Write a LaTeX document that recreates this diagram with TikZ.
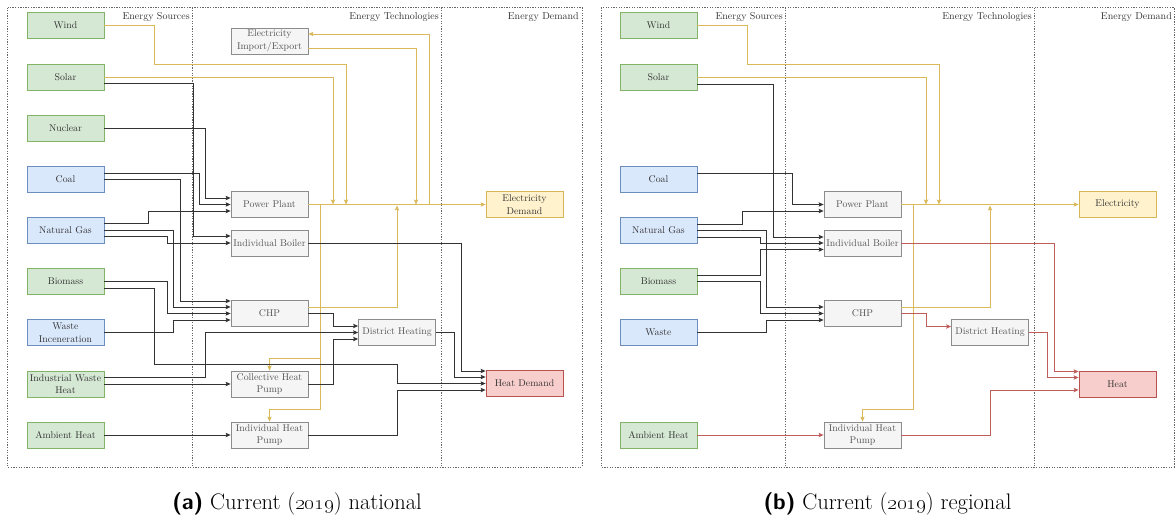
\documentclass[tikz,border=0pt]{standalone}
\usetikzlibrary{arrows.meta}

\definecolor{grnF}{HTML}{D5E8D4}\definecolor{grnD}{HTML}{82B366}
\definecolor{bluF}{HTML}{DAE8FC}\definecolor{bluD}{HTML}{6C8EBF}
\definecolor{gryF}{HTML}{F5F5F5}\definecolor{gryD}{HTML}{8C8C8C}
\definecolor{yelF}{HTML}{FFF2CC}\definecolor{yelD}{HTML}{D6B656}
\definecolor{redF}{HTML}{F8CECC}\definecolor{redD}{HTML}{B85450}
\definecolor{txtD}{HTML}{333333}\definecolor{txtG}{HTML}{555555}
\definecolor{lineK}{HTML}{333333}\definecolor{lineY}{HTML}{D9B95C}
\definecolor{lineR}{HTML}{BE5E5A}

\tikzset{
  box/.style={draw, line width=0.8pt, minimum width=77pt, minimum height=26pt,
    inner sep=1pt, align=center, font=\fontsize{9.8}{12.5}\selectfont},
  srcG/.style={box, fill=grnF, draw=grnD, text=txtD},
  srcB/.style={box, fill=bluF, draw=bluD, text=txtD},
  tech/.style={box, fill=gryF, draw=gryD, text=txtG},
  demY/.style={box, fill=yelF, draw=yelD, text=txtD},
  demR/.style={box, fill=redF, draw=redD, text=txtD},
  zone/.style={text=txtD, font=\fontsize{10}{12}\selectfont, inner sep=0pt},
  frame/.style={draw=black!60, line width=0.7pt, dash pattern=on 1.3pt off 1.3pt},
  arr/.style={-{Stealth[length=5pt,width=4.4pt,inset=1pt]}},
  blk/.style={draw=lineK, line width=0.8pt, arr},
  yel/.style={draw=lineY, line width=0.8pt, arr},
  hline/.style={draw=lineR, line width=0.8pt, arr},
  capt/.style={anchor=base, inner sep=0pt, font=\fontsize{22.5}{27}\selectfont}
}

\begin{document}
\begin{tikzpicture}[x=1pt,y=-1pt]
\useasboundingbox (0,0) rectangle (1175,517);

% ---------------- national system ----------------
\draw[frame] (7.5,7.5) rectangle (582,467);
\draw[frame] (192.5,7.5) -- (192.5,467);
\draw[frame] (441.5,7.5) -- (441.5,467);
\node[zone, anchor=east] (zsL) at (190,17) {Energy Sources};
\node[zone, anchor=east] (ztL) at (439,17) {Energy Technologies};
\node[zone, anchor=east] (zdL) at (579,17) {Energy Demand};

\node[srcG] (windL)  at (65.5,25.5)  {Wind};
\node[srcG] (solarL) at (65.5,77.5)  {Solar};
\node[srcG] (nucL)   at (65.5,128.5) {Nuclear};
\node[srcB] (coalL)  at (65.5,179.5) {Coal};
\node[srcB] (gasL)   at (65.5,230.5) {Natural Gas};
\node[srcG] (bioL)   at (65.5,281.5) {Biomass};
\node[srcB] (wasteL) at (65.5,332.5) {Waste\\Inceneration};
\node[srcG] (iwhL)   at (65.5,384)   {Industrial Waste\\Heat};
\node[srcG] (ambL)   at (65.5,435)   {Ambient Heat};

\node[tech] (ieL)  at (269.5,41)    {Electricity\\Import/Export};
\node[tech] (ppL)  at (269.5,204.5) {Power Plant};
\node[tech] (ibL)  at (269.5,243)   {Individual Boiler};
\node[tech] (chpL) at (269.5,313.5) {CHP};
\node[tech] (dhL)  at (397,332.5)   {District Heating};
\node[tech] (cpL)  at (269.5,384)   {Collective Heat\\Pump};
\node[tech] (ihpL) at (269.5,435)   {Individual Heat\\Pump};

\node[demY] (edL) at (524.5,204.5) {Electricity\\Demand};
\node[demR] (hdL) at (524.5,383.5) {Heat Demand};

% electricity bus junctions
\coordinate (busWL) at (346,204.5);
\coordinate (busSL) at (333,204.5);
\coordinate (busIL) at (416,204.5);
\coordinate (busCL) at (397,205.5);
\coordinate (tapIL) at (429,204.5);
\coordinate (tapHL) at (320,204.5);

% electricity flows
\draw[yel] (windL.east) -| (154,64) -| (busWL);
\draw[yel] (solarL.east) -| (busSL);
\draw[yel] (ppL.east) -- (edL.west);
\draw[yel] ([yshift=-7pt]ieL.east) -| (busIL);
\draw[yel] (tapIL) |- ([yshift=7pt]ieL.east);
\draw[yel] ([yshift=6.5pt]chpL.east) -| (busCL);
\draw[yel] (tapHL) |- (269.5,358) -- (cpL.north);
\draw[yel] (tapHL) |- (269.5,409) -- (ihpL.north);

% fuel and heat flows
\draw[blk] ([yshift=-6pt]solarL.east) -| (193,236) -- ([yshift=7pt]ibL.west);
\draw[blk] (nucL.east) -| (205,198) -- ([yshift=6.5pt]ppL.west);
\draw[blk] ([yshift=6.5pt]coalL.east) -| (199,204.5) -- (ppL.west);
\draw[blk] (coalL.east) -| (180,301) -- ([yshift=12.5pt]chpL.west);
\draw[blk] ([yshift=7.5pt]gasL.east) -| (148,211) -- ([yshift=-6.5pt]ppL.west);
\draw[blk] (gasL.east) -| (173,307) -- ([yshift=6.5pt]chpL.west);
\draw[blk] ([yshift=-6pt]gasL.east) -| (167,243) -- (ibL.west);
\draw[blk] (bioL.east) -| (167,313.5) -- (chpL.west);
\draw[blk] ([yshift=-6.5pt]bioL.east) -| (154,364) -| (397,383.5) -- (hdL.west);
\draw[blk] (wasteL.east) -| (173,320) -- ([yshift=-6.5pt]chpL.west);
\draw[blk] ([yshift=6.5pt]iwhL.east) -| (205,332.5) -- (dhL.west);
\draw[blk] (iwhL.east) -- (cpL.west);
\draw[blk] (ambL.east) -- (ihpL.west);
\draw[blk] (chpL.east) -| (333,326) -- ([yshift=6.5pt]dhL.west);
\draw[blk] (cpL.east) -| (333,339) -- ([yshift=-6.5pt]dhL.west);
\draw[blk] (ibL.east) -| (461,371) -- ([yshift=12.5pt]hdL.west);
\draw[blk] (dhL.east) -| (454,377) -- ([yshift=6.5pt]hdL.west);
\draw[blk] (ihpL.east) -| (397,390) -- ([yshift=-6.5pt]hdL.west);

\node[capt] (capA) at (297,509)
  {\textsf{\bfseries (a)} Current (\oldstylenums{2019}) national};

% ---------------- regional system ----------------
\begin{scope}[xshift=593pt]
\draw[frame] (8,7.5) rectangle (581,467);
\draw[frame] (192.5,7.5) -- (192.5,467);
\draw[frame] (441.5,7.5) -- (441.5,467);
\node[zone, anchor=east] (zsR) at (190,17) {Energy Sources};
\node[zone, anchor=east] (ztR) at (439,17) {Energy Technologies};
\node[zone, anchor=east] (zdR) at (579,17) {Energy Demand};

\node[srcG] (windR)  at (65.5,25.5)  {Wind};
\node[srcG] (solarR) at (65.5,77.5)  {Solar};
\node[srcB] (coalR)  at (65.5,179.5) {Coal};
\node[srcB] (gasR)   at (65.5,230.5) {Natural Gas};
\node[srcG] (bioR)   at (65.5,281.5) {Biomass};
\node[srcB] (wasteR) at (65.5,332.5) {Waste};
\node[srcG] (ambR)   at (65.5,435)   {Ambient Heat};

\node[tech] (ppR)  at (269.5,204.5) {Power Plant};
\node[tech] (ibR)  at (269.5,243)   {Individual Boiler};
\node[tech] (chpR) at (269.5,313.5) {CHP};
\node[tech] (dhR)  at (397,332.5)   {District Heating};
\node[tech] (ihpR) at (269.5,435)   {Individual Heat\\Pump};

\node[demY] (elR) at (524.5,204.5) {Electricity};
\node[demR] (htR) at (524.5,384)   {Heat};

\coordinate (busWR) at (346,204.5);
\coordinate (busSR) at (333,204.5);
\coordinate (busCR) at (397,205.5);
\coordinate (tapHR) at (320,204.5);

\draw[yel] (windR.east) -| (154,64) -| (busWR);
\draw[yel] (solarR.east) -| (busSR);
\draw[yel] (ppR.east) -- (elR.west);
\draw[yel] ([yshift=6.5pt]chpR.east) -| (busCR);
\draw[yel] (tapHR) |- (269.5,409) -- (ihpR.north);

\draw[blk] ([yshift=-6.5pt]solarR.east) -| (180,237) -- ([yshift=6pt]ibR.west);
\draw[blk] ([yshift=6.5pt]coalR.east) -| (199,204.5) -- (ppR.west);
\draw[blk] ([yshift=6.5pt]gasR.east) -| (149,211) -- ([yshift=-6.5pt]ppR.west);
\draw[blk] (gasR.east) -| (173,307) -- ([yshift=6.5pt]chpR.west);
\draw[blk] ([yshift=-6.5pt]gasR.east) -| (167,243) -- (ibR.west);
\draw[blk] ([yshift=6.5pt]bioR.east) -| (167,249.5) -- ([yshift=-6.5pt]ibR.west);
\draw[blk] (bioR.east) -| (167,313.5) -- (chpR.west);
\draw[blk] (wasteR.east) -| (173,320) -- ([yshift=-6.5pt]chpR.west);

\draw[hline] (ambR.east) -- (ihpR.west);
\draw[hline] (chpR.east) -| (333,326.5) -- ([yshift=6pt]dhR.west);
\draw[hline] (ibR.east) -| (461,371.5) -- ([yshift=12.5pt]htR.west);
\draw[hline] (dhR.east) -| (454,377.5) -- ([yshift=6.5pt]htR.west);
\draw[hline] (ihpR.east) -| (397,390) -- ([yshift=-6pt]htR.west);

\node[capt] (capB) at (294.5,509)
  {\textsf{\bfseries (b)} Current (\oldstylenums{2019}) regional};
\end{scope}
\end{tikzpicture}
\end{document}
